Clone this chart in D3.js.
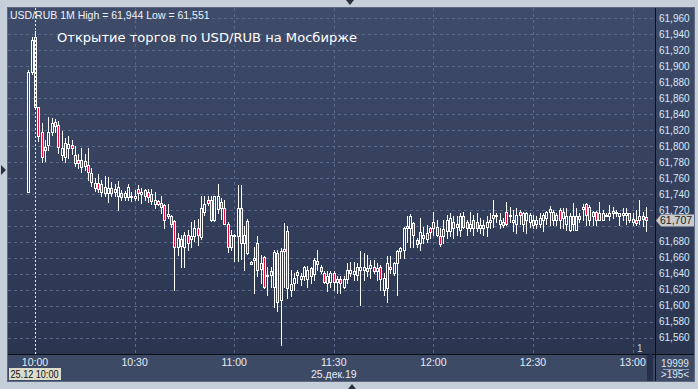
<!DOCTYPE html>
<html><head><meta charset="utf-8">
<script src="https://cdn.jsdelivr.net/npm/d3@7"></script>
<style>html,body{margin:0;padding:0;background:#c6ced9;overflow:hidden}</style>
</head><body><svg id="c" width="698" height="389"></svg>
<script>
// ---- data ----
const firstBar = "09:58";           // 1-minute bars, one per minute from here
const open = [61.743,61.893,61.937,61.849,61.817,61.799,61.801,61.818,61.830,61.826,
61.789,61.786,61.797,61.801,61.789,61.782,61.782,61.775,61.776,61.766,
61.748,61.754,61.752,61.741,61.741,61.747,61.746,61.738,61.741,61.736,
61.736,61.736,61.738,61.746,61.740,61.745,61.742,61.740,61.728,61.731,
61.729,61.726,61.712,61.713,61.706,61.674,61.684,61.674,61.689,61.683,
61.687,61.697,61.686,61.717,61.732,61.732,61.708,61.721,61.730,61.722,
61.703,61.674,61.687,61.687,61.722,61.679,61.706,61.655,61.657,61.678,
61.646,61.661,61.637,61.643,61.624,61.666,61.607,61.671,61.694,61.620,
61.628,61.642,61.633,61.637,61.633,61.647,61.640,61.656,61.648,61.641,
61.628,61.630,61.641,61.630,61.633,61.624,61.634,61.641,61.640,61.639,
61.645,61.645,61.647,61.647,61.649,61.643,61.648,61.620,61.622,61.649,
61.641,61.653,61.668,61.670,61.700,61.697,61.704,61.682,61.679,61.689,
61.683,61.697,61.697,61.699,61.687,61.687,61.693,61.693,61.697,61.699,
61.695,61.712,61.705,61.697,61.707,61.705,61.697,61.697,61.699,61.705,
61.710,61.713,61.703,61.705,61.718,61.713,61.705,61.703,61.718,61.703,
61.708,61.705,61.708,61.702,61.703,61.708,61.710,61.718,61.718,61.708,
61.720,61.717,61.702,61.695,61.712,61.695,61.712,61.721,61.7275,61.708,
61.718,61.717,61.7075,61.7075,61.7125,61.7125,61.716,61.716,61.7125,61.714,
61.714,61.716,61.705,61.708,61.707,61.712,61.711];
const high = [61.895,61.936,61.944,61.849,61.829,61.807,61.837,61.835,61.834,61.832,
61.819,61.810,61.812,61.807,61.800,61.790,61.797,61.790,61.797,61.772,
61.760,61.765,61.758,61.762,61.761,61.755,61.752,61.756,61.745,61.744,
61.752,61.742,61.745,61.751,61.747,61.746,61.746,61.746,61.743,61.733,
61.737,61.728,61.728,61.714,61.707,61.691,61.689,61.692,61.695,61.705,
61.708,61.709,61.737,61.737,61.737,61.737,61.738,61.752,61.735,61.733,
61.705,61.695,61.690,61.751,61.751,61.700,61.709,61.656,61.674,61.687,
61.663,61.662,61.649,61.649,61.670,61.670,61.672,61.704,61.700,61.645,
61.641,61.645,61.641,61.650,61.650,61.649,61.660,61.670,61.651,61.643,
61.644,61.643,61.643,61.637,61.637,61.637,61.653,61.655,61.655,61.653,
61.668,61.666,61.664,61.657,61.657,61.653,61.651,61.641,61.662,61.662,
61.655,61.670,61.674,61.699,61.712,61.715,61.705,61.685,61.710,61.699,
61.701,61.699,61.718,61.707,61.697,61.707,61.714,61.716,61.712,61.712,
61.716,61.718,61.708,61.718,61.714,61.716,61.710,61.708,61.712,61.716,
61.7325,61.716,61.716,61.710,61.730,61.724,61.720,61.722,61.720,61.718,
61.718,61.716,61.714,61.712,61.716,61.716,61.719,61.725,61.720,61.716,
61.722,61.722,61.722,61.716,61.7283,61.722,61.716,61.7275,61.7283,61.726,
61.719,61.719,61.730,61.720,61.716,61.726,61.724,61.720,61.716,61.722,
61.722,61.7167,61.716,61.720,61.7325,61.718,61.724];
const low = [61.742,61.890,61.848,61.806,61.780,61.781,61.795,61.814,61.818,61.791,
61.783,61.780,61.785,61.790,61.775,61.772,61.767,61.770,61.757,61.750,
61.744,61.742,61.738,61.737,61.730,61.737,61.738,61.720,61.732,61.732,
61.733,61.731,61.732,61.732,61.729,61.733,61.730,61.727,61.722,61.726,
61.716,61.697,61.710,61.699,61.620,61.663,61.648,61.648,61.670,61.674,
61.681,61.676,61.683,61.714,61.726,61.706,61.706,61.716,61.709,61.702,
61.667,61.670,61.656,61.656,61.658,61.645,61.665,61.652,61.616,61.637,
61.628,61.622,61.614,61.624,61.599,61.593,61.551,61.624,61.610,61.612,
61.620,61.628,61.626,61.632,61.624,61.628,61.632,61.645,61.641,61.628,
61.618,61.624,61.620,61.616,61.616,61.622,61.628,61.637,61.632,61.632,
61.601,61.632,61.637,61.635,61.641,61.632,61.620,61.614,61.605,61.641,
61.639,61.614,61.660,61.660,61.680,61.674,61.674,61.674,61.670,61.678,
61.680,61.685,61.689,61.687,61.675,61.678,61.685,61.687,61.685,61.689,
61.687,61.697,61.689,61.693,61.689,61.693,61.691,61.689,61.687,61.697,
61.699,61.705,61.697,61.699,61.701,61.705,61.693,61.691,61.703,61.693,
61.691,61.699,61.697,61.697,61.699,61.693,61.703,61.701,61.701,61.701,
61.697,61.697,61.695,61.693,61.695,61.695,61.705,61.7075,61.701,61.701,
61.701,61.701,61.7075,61.7075,61.712,61.7075,61.710,61.7125,61.701,61.7075,
61.703,61.705,61.701,61.701,61.703,61.700,61.693];
const close = [61.893,61.933,61.849,61.812,61.786,61.795,61.818,61.829,61.825,61.799,
61.797,61.804,61.802,61.797,61.779,61.779,61.774,61.781,61.768,61.755,
61.754,61.746,61.742,61.749,61.747,61.741,61.742,61.749,61.736,61.741,
61.749,61.738,61.735,61.741,61.743,61.738,61.736,61.731,61.732,61.728,
61.724,61.708,61.715,61.702,61.673,61.685,61.675,61.689,61.679,61.687,
61.697,61.688,61.723,61.728,61.729,61.707,61.737,61.737,61.723,61.703,
61.673,61.688,61.689,61.722,61.678,61.689,61.666,61.652,61.660,61.645,
61.653,61.623,61.639,61.638,61.667,61.605,61.668,61.668,61.622,61.627,
61.635,61.638,61.637,61.648,61.645,61.637,61.657,61.652,61.644,61.630,
61.637,61.641,61.630,61.633,61.628,61.634,61.645,61.645,61.644,61.649,
61.649,61.649,61.643,61.651,61.644,61.647,61.633,61.635,61.653,61.646,
61.653,61.668,61.672,61.697,61.697,61.712,61.689,61.677,61.692,61.685,
61.691,61.692,61.705,61.689,61.677,61.696,61.708,61.710,61.705,61.703,
61.712,61.699,61.697,61.703,61.697,61.697,61.701,61.701,61.705,61.708,
61.714,61.714,61.707,61.701,61.703,61.714,61.707,61.714,61.714,61.716,
61.716,61.714,61.701,61.707,61.710,61.714,61.718,61.721,61.708,61.714,
61.708,61.710,61.712,61.712,61.702,61.712,61.7083,61.724,61.714,61.724,
61.712,61.7075,61.716,61.716,61.714,61.716,61.719,61.718,61.716,61.716,
61.716,61.7075,61.7083,61.704,61.712,61.7083,61.707];
const priceTicks = [61.56,61.58,61.60,61.62,61.64,61.66,61.68,61.70,61.72,61.74,61.76,61.78,61.80,61.82,61.84,61.86,61.88,61.90,61.92,61.94,61.96];
const timeTicks = ["10:00","10:30","11:00","11:30","12:00","12:30","13:00"];
const headerText = "USD/RUB 1M High = 61,944 Low = 61,551";
const titleText = "Открытие торгов по USD/RUB на Мосбирже";
const lastPrice = 61.707;
const cursorTime = "10:00";
const cursorLabel = "25.12 10:00";
const dateLabel = "25.дек.19";
const cornerTop = "19999", cornerBottom = ">195<";

// ---- layout ----
const svg = d3.select("#c");
const P = {l: 8, t: 8, r: 655, b: 354, axR: 694, axB: 381};
const day = (hm) => { const [h, m] = hm.split(":").map(Number); return new Date(2019, 11, 25, h, m); };
const x = d3.scaleTime().domain([day("10:00"), day("13:00")]).range([35, 632.6]);
const y = d3.scaleLinear().domain([61.56, 61.96]).range([337.7, 18.3]);
const fmt = v => d3.format(".3f")(v).replace(".", ",");
const font = "'Liberation Sans', Arial, sans-serif";

const defs = svg.append("defs");
const g1 = defs.append("linearGradient").attr("id", "bg").attr("gradientUnits", "userSpaceOnUse")
  .attr("x1", 0).attr("y1", P.t).attr("x2", 0).attr("y2", P.b);
g1.append("stop").attr("offset", 0).attr("stop-color", "#3f4c69");
g1.append("stop").attr("offset", 1).attr("stop-color", "#2a3550");
defs.append("clipPath").attr("id", "clip").append("rect")
  .attr("x", P.l).attr("y", P.t).attr("width", P.r - P.l).attr("height", P.b - P.t);

// outer panel
svg.append("rect").attr("x", P.l - 0.5).attr("y", P.t - 0.5).attr("width", P.axR - P.l + 1).attr("height", P.axB - P.t + 1)
  .attr("fill", "#3a4661").attr("stroke", "#5d6a82");
svg.append("rect").attr("x", P.l).attr("y", P.t).attr("width", P.axR - P.l).attr("height", P.b - P.t).attr("fill", "url(#bg)");
// x axis band
svg.append("rect").attr("x", P.l).attr("y", P.b).attr("width", P.axR - P.l).attr("height", P.axB - P.b).attr("fill", "#3d4a65");
svg.append("line").attr("x1", P.l).attr("x2", P.axR).attr("y1", P.b + 0.5).attr("y2", P.b + 0.5).attr("stroke", "#0b0f18");
svg.append("line").attr("x1", P.r + 0.5).attr("x2", P.r + 0.5).attr("y1", P.t).attr("y2", P.axB).attr("stroke", "#0b0f18");

// grid
const grid = svg.append("g");
grid.selectAll(".hg").data(priceTicks).join("line")
  .attr("x1", P.l).attr("x2", P.r).attr("y1", d => Math.round(y(d)) + 0.5).attr("y2", d => Math.round(y(d)) + 0.5)
  .attr("stroke", "#58688a").attr("stroke-dasharray", "3,3");
grid.selectAll(".vg").data(timeTicks.slice(1)).join("line")
  .attr("x1", d => Math.round(x(day(d))) + 0.5).attr("x2", d => Math.round(x(day(d))) + 0.5)
  .attr("y1", P.t).attr("y2", P.b).attr("stroke", "#58688a").attr("stroke-dasharray", "3,3");

// candles
const t0 = day(firstBar);
const bars = open.map((o, i) => ({t: d3.timeMinute.offset(t0, i), o, h: high[i], l: low[i], c: close[i]}));
const cg = svg.append("g").attr("clip-path", "url(#clip)");
const cx = d => Math.round(x(d.t));
cg.selectAll(".wick").data(bars).join("line")
  .attr("x1", d => cx(d) + 0.5).attr("x2", d => cx(d) + 0.5)
  .attr("y1", d => Math.round(y(d.h))).attr("y2", d => Math.round(y(d.l)) + 1)
  .attr("stroke", "#ffffff");
cg.selectAll(".body").data(bars).join("rect")
  .attr("x", d => cx(d) - 0.5).attr("width", 2)
  .attr("y", d => Math.round(y(Math.max(d.o, d.c))) + 0.5)
  .attr("height", d => Math.max(1, Math.round(y(Math.min(d.o, d.c))) - Math.round(y(Math.max(d.o, d.c)))))
  .attr("fill", d => d.c < d.o ? "#ea0a36" : "url(#bg)")
  .attr("stroke", "#ffffff").attr("stroke-width", 1);

// cursor line at 10:00
svg.append("line").attr("x1", Math.round(x(day(cursorTime))) + 0.5).attr("x2", Math.round(x(day(cursorTime))) + 0.5)
  .attr("y1", P.t).attr("y2", P.b).attr("stroke", "#e6ecf4").attr("stroke-dasharray", "2,2");

// price axis labels (the one covered by the last-price marker is hidden, as in the picture)
const ly = Math.round(y(lastPrice));
svg.append("g").selectAll("text")
  .data(priceTicks.filter(d => Math.abs(y(d) - ly) > 8)).join("text")
  .attr("x", 659).attr("y", d => y(d)).attr("dy", "0.36em")
  .attr("font-family", font).attr("font-size", 10).attr("fill", "#dbe6f4").text(fmt);

// last price marker
svg.append("path").attr("d", `M656,${ly + 0.5} L661,${ly - 5.5} L694,${ly - 5.5} L694,${ly + 6.5} L661,${ly + 6.5} Z`)
  .attr("fill", "#c8cacc");
svg.append("text").attr("x", 660).attr("y", ly).attr("dy", "0.38em").attr("font-family", font).attr("font-size", 10.5)
  .attr("fill", "#1a1a1a").text(fmt(lastPrice));

// time labels
svg.append("g").selectAll("text").data(timeTicks).join("text")
  .attr("x", d => x(day(d))).attr("y", 366).attr("text-anchor", "middle")
  .attr("font-family", font).attr("font-size", 10.5).attr("fill", "#e6edf6").text(d => d);
// cursor time label
svg.append("rect").attr("x", 9).attr("y", 368).attr("width", 52).attr("height", 12).attr("fill", "#dcdccb");
svg.append("text").attr("x", 10.5).attr("y", 378).attr("font-family", font).attr("font-size", 10)
  .attr("textLength", 48).attr("lengthAdjust", "spacingAndGlyphs").attr("fill", "#111").text(cursorLabel);
svg.append("text").attr("x", x(day("11:30"))).attr("y", 378).attr("text-anchor", "middle")
  .attr("font-family", font).attr("font-size", 10.5).attr("fill", "#e6edf6").text(dateLabel);

// corner counters
svg.append("text").attr("x", 675).attr("y", 367).attr("text-anchor", "middle").attr("font-family", font)
  .attr("font-size", 10).attr("fill", "#dbe6f4").text(cornerTop);
svg.append("line").attr("x1", 663).attr("x2", 689).attr("y1", 369.5).attr("y2", 369.5).attr("stroke", "#8d9bb2");
svg.append("text").attr("x", 675).attr("y", 378).attr("text-anchor", "middle").attr("font-family", font)
  .attr("font-size", 10).attr("fill", "#dbe6f4").text(cornerBottom);

// scroll thumb
svg.append("rect").attr("x", 647).attr("y", 358).attr("width", 6).attr("height", 23).attr("fill", "#27304a");
svg.append("path").attr("d", "M645,358 L650,353 L655,358 Z").attr("fill", "#27304a");
svg.append("text").attr("x", 637).attr("y", 352).attr("font-family", font).attr("font-size", 10).attr("fill", "#bcd4ee").text("1");

// header + title
svg.append("text").attr("x", 10).attr("y", 19).attr("font-family", font).attr("font-size", 10.5)
  .attr("fill", "#eef2f8").text(headerText);
svg.append("text").attr("x", 57).attr("y", 42).attr("font-family", "'DejaVu Sans', Verdana, sans-serif")
  .attr("font-size", 13).attr("fill", "#ffffff").attr("textLength", 300).attr("lengthAdjust", "spacingAndGlyphs").text(titleText);

// little navigation triangles on the frame
svg.append("path").attr("d", "M346,0 L354,0 L350,5 Z").attr("fill", "#2a3040");
svg.append("path").attr("d", "M348,389 L356,389 L352,384 Z").attr("fill", "#2a3040");
svg.append("path").attr("d", "M1,165 L1,175 L6,170 Z").attr("fill", "#2a3040");
</script></body></html>
